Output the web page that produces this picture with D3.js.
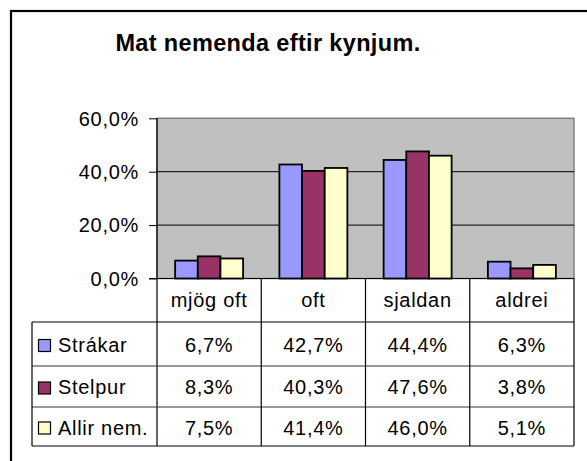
<!DOCTYPE html>
<html>
<head>
<meta charset="utf-8">
<script src="https://cdn.jsdelivr.net/npm/d3@7/dist/d3.min.js"></script>
<style>
  html, body { margin: 0; padding: 0; background: #fff; }
  svg { display: block; font-family: "Liberation Sans", Arial, sans-serif; }
  .t20 { letter-spacing: 0.7px; }
</style>
</head>
<body>
<svg id="chart" width="587" height="461"></svg>
<script>
const title = "Mat nemenda eftir kynjum.";
const categories = ["mjög oft", "oft", "sjaldan", "aldrei"];
const seriesNames = ["Strákar", "Stelpur", "Allir nem."];
const strakar = [0.067, 0.427, 0.444, 0.063];
const stelpur = [0.083, 0.403, 0.476, 0.038];
const allir = [0.075, 0.414, 0.460, 0.051];
const tickValues = [0, 0.2, 0.4, 0.6];
const colors = ["#9999FF", "#993366", "#FFFFCC"];

const seriesValues = [strakar, stelpur, allir];
const fmt = v => d3.format(".1%")(v).replace(".", ",");

const svg = d3.select("#chart");

// outer chart border (right and bottom lie outside the picture)
svg.append("rect").attr("x", 11).attr("y", 11).attr("width", 600).attr("height", 480)
  .attr("fill", "#fff").attr("stroke", "#000").attr("stroke-width", 2.2);

svg.append("text").attr("x", 268).attr("y", 51).attr("text-anchor", "middle")
  .attr("font-size", 23.5).attr("font-weight", "bold").attr("letter-spacing", 0.35).text(title);

const plot = { left: 157, right: 574, top: 118.3, bottom: 278.5 };

const x0 = d3.scaleBand().domain(categories).range([plot.left, plot.right]).paddingInner(0).paddingOuter(0);
const bw = x0.bandwidth();
const x1 = d3.scaleBand().domain(seriesNames).range([bw * 0.174, bw * 0.826]).padding(0);
const y = d3.scaleLinear().domain([0, 0.6]).range([plot.bottom, plot.top]);

// plot background
svg.append("rect").attr("x", plot.left).attr("y", plot.top)
  .attr("width", plot.right - plot.left).attr("height", plot.bottom - plot.top)
  .attr("fill", "#C0C0C0").attr("stroke", "#808080").attr("stroke-width", 1.5);

// gridlines
svg.append("g").selectAll("line").data(tickValues.filter(t => t > 0 && t < 0.6)).join("line")
  .attr("x1", plot.left).attr("x2", plot.right)
  .attr("y1", d => y(d)).attr("y2", d => y(d))
  .attr("stroke", "#000").attr("stroke-width", 1);

// bars
const groups = svg.append("g").selectAll("g").data(categories).join("g")
  .attr("transform", d => `translate(${x0(d)},0)`);
groups.selectAll("rect").data((c, i) => seriesNames.map((s, j) => ({ s, j, v: seriesValues[j][i] })))
  .join("rect")
  .attr("x", d => x1(d.s)).attr("width", x1.bandwidth())
  .attr("y", d => y(d.v)).attr("height", d => y(0) - y(d.v))
  .attr("fill", d => colors[d.j]).attr("stroke", "#000").attr("stroke-width", 1.8);

// y axis
const yAxis = d3.axisLeft(y).tickValues(tickValues).tickSize(8).tickFormat(fmt);
const ya = svg.append("g").attr("transform", `translate(${plot.left},0)`).call(yAxis);
ya.select(".domain").remove();
ya.selectAll(".tick line").attr("stroke", "#000");
ya.selectAll(".tick text").attr("class", "t20").attr("font-size", 20).attr("fill", "#000")
  .attr("font-family", "Liberation Sans, Arial, sans-serif").attr("x", -18).attr("dy", "0.34em");
svg.append("line").attr("x1", plot.left).attr("x2", plot.left).attr("y1", plot.top).attr("y2", 446)
  .attr("stroke", "#000").attr("stroke-width", 1.2);
svg.append("line").attr("x1", plot.left - 8).attr("x2", plot.right).attr("y1", plot.bottom).attr("y2", plot.bottom)
  .attr("stroke", "#000").attr("stroke-width", 1.2);

// data table
const tableLeft = 32;
const rowLines = [322, 366, 407, 446];
const table = svg.append("g");
table.selectAll("line.h").data(rowLines).join("line")
  .attr("x1", tableLeft).attr("x2", plot.right).attr("y1", d => d).attr("y2", d => d)
  .attr("stroke", (d, i) => (i === 0 || i === 3) ? "#000" : "#333").attr("stroke-width", 1.2);
table.selectAll("line.v").data(categories).join("line")
  .attr("x1", d => x0(d) + bw).attr("x2", d => x0(d) + bw)
  .attr("y1", plot.bottom).attr("y2", 446).attr("stroke", "#000").attr("stroke-width", 1.2);
table.append("line").attr("x1", tableLeft).attr("x2", tableLeft).attr("y1", 322).attr("y2", 446)
  .attr("stroke", "#000").attr("stroke-width", 1.2);

// header
table.selectAll("text.cat").data(categories).join("text")
  .attr("class", "t20")
  .attr("x", d => x0(d) + bw / 2).attr("y", 306.5).attr("text-anchor", "middle")
  .attr("font-size", 20).text(d => d);

const rowBaselines = [351.5, 393.8, 435];
const rowCenters = [344, 386.5, 426.5];
seriesNames.forEach((s, j) => {
  table.append("rect").attr("x", 38.5).attr("y", rowCenters[j] - 4.5).attr("width", 12).attr("height", 12)
    .attr("fill", colors[j]).attr("stroke", "#000").attr("stroke-width", 1.2);
  table.append("text").attr("class", "t20").attr("x", 58).attr("y", rowBaselines[j]).attr("font-size", 20).text(s);
  table.selectAll(null).data(categories).join("text")
    .attr("class", "t20")
    .attr("x", d => x0(d) + bw / 2).attr("y", rowBaselines[j]).attr("text-anchor", "middle")
    .attr("font-size", 20).text((d, i) => fmt(seriesValues[j][i]));
});
</script>
</body>
</html>
